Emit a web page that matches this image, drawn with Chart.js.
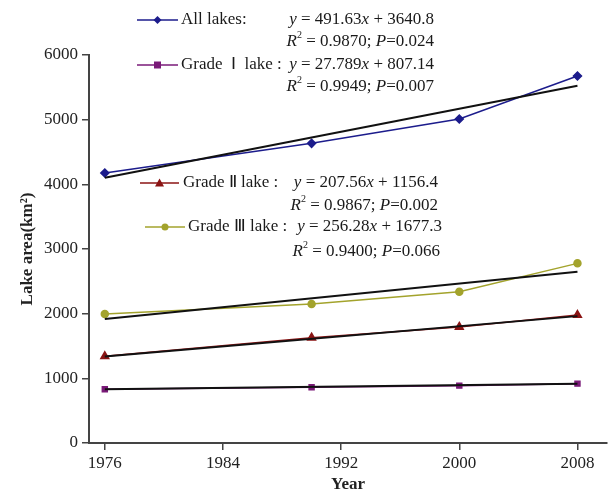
<!DOCTYPE html>
<html>
<head>
<meta charset="utf-8">
<script src="https://cdn.jsdelivr.net/npm/chart.js@4"></script>
<style>
  body { margin: 0; background: #fff; }
  #wrap { width: 613px; height: 495px; }
</style>
</head>
<body>
<div id="wrap"><canvas id="lakeChart" width="613" height="495"></canvas></div>
<script>
// data
const years = [1976, 1990, 2000, 2008];
const allLakes = [4175, 4634, 5010, 5675];
const gradeI = [830, 861, 887, 918];
const gradeII = [1340, 1629, 1794, 1979];
const gradeIII = [1995, 2149, 2340, 2778];

// fitted lines, read at both ends
const trendYears = [1976, 2008];
const allTrend = [4102, 5525];
const gradeITrend = [830, 918];
const gradeIITrend = [1338, 1962];
const gradeIIITrend = [1918, 2649];

const xTicks = [1976, 1984, 1992, 2000, 2008];

const serif = '"Liberation Serif", "Times New Roman", serif';
const colors = {
    all: '#1c1c8c',
    g1: '#7a1a78',
    g2: '#8b1414',
    g3: '#a3a32c'
};

function pts(xs, ys) {
    return xs.map((x, i) => ({ x: x, y: ys[i] }));
}

function series(label, ys, color, style, radius) {
    return {
        label: label,
        data: pts(years, ys),
        borderColor: color,
        backgroundColor: color,
        borderWidth: 1.5,
        pointStyle: style,
        pointRadius: radius,
        order: 2
    };
}

function trend(label, ys) {
    return {
        label: label,
        data: pts(trendYears, ys),
        borderColor: '#111',
        borderWidth: 2,
        pointRadius: 0,
        order: 1
    };
}

// draw a run of text pieces, some italic, some superscript
function drawRun(ctx, parts, x, y, align) {
    const size = 17;
    const fontFor = p => (p.i ? 'italic ' : '') + (p.sup ? 10 : size) + 'px ' + serif;
    let total = 0;
    parts.forEach(p => { ctx.font = fontFor(p); total += ctx.measureText(p.t).width; });
    let cx = align === 'right' ? x - total : x;
    ctx.textBaseline = 'middle';
    ctx.textAlign = 'left';
    parts.forEach(p => {
        ctx.font = fontFor(p);
        ctx.fillText(p.t, cx, p.sup ? y - 7 : y);
        cx += ctx.measureText(p.t).width;
    });
}

function sample(ctx, x1, x2, y, color, shape) {
    ctx.strokeStyle = color;
    ctx.fillStyle = color;
    ctx.lineWidth = 1.5;
    ctx.beginPath();
    ctx.moveTo(x1, y);
    ctx.lineTo(x2, y);
    ctx.stroke();
    const m = (x1 + x2) / 2;
    ctx.beginPath();
    if (shape === 'diamond') {
        ctx.moveTo(m, y - 4); ctx.lineTo(m + 4, y); ctx.lineTo(m, y + 4); ctx.lineTo(m - 4, y);
    } else if (shape === 'square') {
        ctx.rect(m - 3.5, y - 3.5, 7, 7);
    } else if (shape === 'triangle') {
        ctx.moveTo(m, y - 4.5); ctx.lineTo(m + 4.5, y + 3.5); ctx.lineTo(m - 4.5, y + 3.5);
    } else {
        ctx.arc(m, y, 3.5, 0, Math.PI * 2);
    }
    ctx.closePath();
    ctx.fill();
}

const eqLegend = {
    id: 'eqLegend',
    afterDraw(chart) {
        const ctx = chart.ctx;
        ctx.save();
        const ink = '#1a1a1a';

        sample(ctx, 137, 178, 20, colors.all, 'diamond');
        ctx.fillStyle = ink;
        drawRun(ctx, [{ t: 'All lakes:' }], 181, 20, 'left');
        drawRun(ctx, [{ t: 'y', i: true }, { t: ' = 491.63' }, { t: 'x', i: true }, { t: ' + 3640.8' }], 434, 20, 'right');
        drawRun(ctx, [{ t: 'R', i: true }, { t: '2', sup: true }, { t: ' = 0.9870; ' }, { t: 'P', i: true }, { t: '=0.024' }], 434, 42, 'right');

        sample(ctx, 137, 178, 65, colors.g1, 'square');
        ctx.fillStyle = ink;
        drawRun(ctx, [{ t: 'Grade  Ⅰ  lake :' }], 181, 65, 'left');
        drawRun(ctx, [{ t: 'y', i: true }, { t: ' = 27.789' }, { t: 'x', i: true }, { t: ' + 807.14' }], 434, 65, 'right');
        drawRun(ctx, [{ t: 'R', i: true }, { t: '2', sup: true }, { t: ' = 0.9949; ' }, { t: 'P', i: true }, { t: '=0.007' }], 434, 87, 'right');

        sample(ctx, 140, 179, 183, colors.g2, 'triangle');
        ctx.fillStyle = ink;
        drawRun(ctx, [{ t: 'Grade Ⅱ lake :' }], 183, 183, 'left');
        drawRun(ctx, [{ t: 'y', i: true }, { t: ' = 207.56' }, { t: 'x', i: true }, { t: ' + 1156.4' }], 438, 183, 'right');
        drawRun(ctx, [{ t: 'R', i: true }, { t: '2', sup: true }, { t: ' = 0.9867; ' }, { t: 'P', i: true }, { t: '=0.002' }], 438, 206, 'right');

        sample(ctx, 145, 185, 227, colors.g3, 'circle');
        ctx.fillStyle = ink;
        drawRun(ctx, [{ t: 'Grade Ⅲ lake :' }], 188, 227, 'left');
        drawRun(ctx, [{ t: 'y', i: true }, { t: ' = 256.28' }, { t: 'x', i: true }, { t: ' + 1677.3' }], 442, 227, 'right');
        drawRun(ctx, [{ t: 'R', i: true }, { t: '2', sup: true }, { t: ' = 0.9400; ' }, { t: 'P', i: true }, { t: '=0.066' }], 440, 252, 'right');

        ctx.restore();
    }
};

const ctx = document.getElementById('lakeChart').getContext('2d');
new Chart(ctx, {
    type: 'line',
    data: {
        datasets: [
            series('All lakes', allLakes, colors.all, 'rectRot', 4),
            series('Grade I lake', gradeI, colors.g1, 'rect', 3.5),
            series('Grade II lake', gradeII, colors.g2, 'triangle', 4.5),
            series('Grade III lake', gradeIII, colors.g3, 'circle', 3.5),
            trend('All lakes fit', allTrend),
            trend('Grade I fit', gradeITrend),
            trend('Grade II fit', gradeIITrend),
            trend('Grade III fit', gradeIIITrend)
        ]
    },
    options: {
        responsive: false,
        animation: false,
        layout: { padding: { top: 55, right: 0, left: 0, bottom: 0 } },
        plugins: {
            legend: { display: false },
            tooltip: { enabled: false }
        },
        scales: {
            x: {
                type: 'linear',
                min: 1974.93,
                max: 2010,
                afterBuildTicks: scale => { scale.ticks = xTicks.map(v => ({ value: v })); },
                afterFit: scale => { scale.height = 52; },
                ticks: {
                    color: '#222',
                    font: { family: serif, size: 17 },
                    padding: 3,
                    maxRotation: 0,
                    callback: v => String(v)
                },
                grid: { drawOnChartArea: false, drawTicks: true, tickLength: 7, color: '#444', lineWidth: 1.5 },
                border: { color: '#444', width: 2 },
                title: {
                    display: true,
                    text: 'Year',
                    color: '#222',
                    font: { family: serif, size: 17, weight: 'bold' },
                    padding: { top: 2, bottom: 0 }
                }
            },
            y: {
                min: 0,
                max: 6000,
                afterFit: scale => { scale.width = 89; },
                ticks: {
                    stepSize: 1000,
                    color: '#222',
                    font: { family: serif, size: 17 },
                    padding: 4,
                    callback: v => String(v)
                },
                grid: { drawOnChartArea: false, drawTicks: true, tickLength: 7, color: '#444', lineWidth: 1.5 },
                border: { color: '#444', width: 2 },
                title: {
                    display: true,
                    text: 'Lake area(km²)',
                    color: '#222',
                    font: { family: serif, size: 17, weight: 'bold' },
                    padding: { top: 17, bottom: 0 }
                }
            }
        }
    },
    plugins: [eqLegend]
});
</script>
</body>
</html>
